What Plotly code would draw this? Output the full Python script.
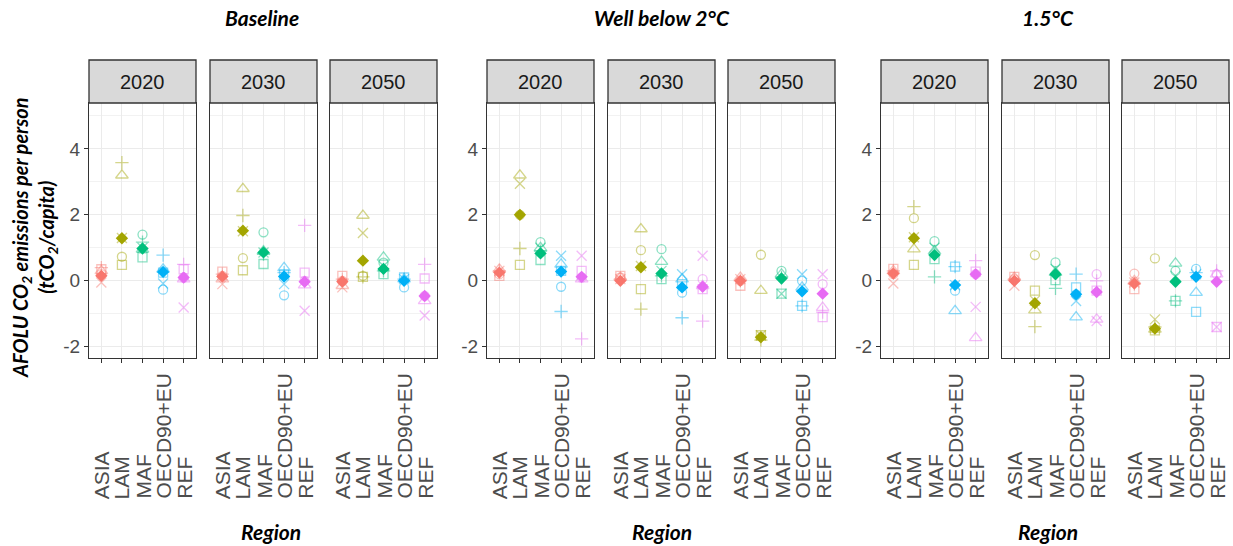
import plotly.graph_objects as go

# ---- data -------------------------------------------------------------
regions = ["ASIA", "LAM", "MAF", "OECD90+EU", "REF"]
scenarios = ["Baseline", "Well below 2°C", "1.5°C"]
years = ["2020", "2030", "2050"]
colors = ["#F8766D", "#A3A500", "#00BF7D", "#00B0F6", "#E76BF3"]
y_tickvals = [-2, 0, 2, 4]
y_ticktext = ["-2", "0", "2", "4"]

# Per-model values (tCO2/capita) for each scenario/year, ordered as `regions`.
# Keys: median across models, then one entry per model.
base_2020 = {
    "median": [0.15, 1.29, 0.98, 0.27, 0.10],
    "m1": [0.35, 0.48, 0.71, 0.25, 0.35],
    "m2": [0.20, 0.73, 1.40, -0.27, 0.10],
    "m3": [0.30, 3.20, 0.95, 0.35, 0.05],
    "m4": [0.40, 3.58, 1.17, 0.78, 0.50],
    "m5": [-0.05, 1.30, 1.00, -0.08, -0.81],
}
base_2030 = {
    "median": [0.13, 1.52, 0.86, 0.13, -0.03],
    "m1": [0.28, 0.32, 0.51, 0.20, 0.25],
    "m2": [0.15, 0.69, 1.47, -0.44, 0.00],
    "m3": [0.05, 2.79, 0.90, 0.39, -0.13],
    "m4": [0.20, 1.98, 0.81, 0.25, 1.68],
    "m5": [-0.10, 1.50, 0.86, -0.10, -0.91],
}
base_2050 = {
    "median": [-0.02, 0.61, 0.36, 0.00, -0.46],
    "m1": [0.15, 0.12, 0.20, 0.10, 0.07],
    "m2": [0.00, 0.15, 0.55, -0.20, -0.46],
    "m3": [-0.15, 1.98, 0.71, 0.05, -0.61],
    "m4": [0.05, 0.12, 0.30, 0.05, 0.50],
    "m5": [-0.20, 1.45, 0.45, 0.05, -1.05],
}
wb2c_2020 = {
    "median": [0.25, 2.00, 0.83, 0.28, 0.12],
    "m1": [0.15, 0.48, 0.63, 0.30, 0.30],
    "m2": [0.20, 2.00, 1.17, -0.18, 0.10],
    "m3": [0.35, 3.20, 1.00, 0.50, 0.05],
    "m4": [0.30, 0.98, 0.90, -0.93, -1.76],
    "m5": [0.30, 2.94, 1.00, 0.76, 0.76],
}
wb2c_2030 = {
    "median": [0.00, 0.41, 0.22, -0.20, -0.18],
    "m1": [0.15, -0.25, 0.05, -0.10, -0.25],
    "m2": [0.10, 0.93, 0.96, -0.36, 0.05],
    "m3": [0.10, 1.57, 0.58, 0.05, -0.15],
    "m4": [0.05, -0.86, 0.15, -1.12, -1.22],
    "m5": [0.05, 0.45, 0.30, 0.20, 0.76],
}
wb2c_2050 = {
    "median": [0.00, -1.71, 0.07, -0.32, -0.39],
    "m1": [-0.15, -1.65, -0.39, -0.76, -1.10],
    "m2": [0.00, 0.79, 0.30, 0.00, -0.10],
    "m3": [0.10, -0.30, 0.20, -0.20, -0.81],
    "m4": [0.00, -1.80, 0.10, -0.76, -0.95],
    "m5": [0.05, -1.65, -0.39, 0.20, 0.20],
}
c15_2020 = {
    "median": [0.22, 1.29, 0.78, -0.13, 0.20],
    "m1": [0.36, 0.48, 0.66, 0.43, 0.28],
    "m2": [0.20, 1.90, 1.20, -0.30, 0.20],
    "m3": [0.30, 0.96, 0.90, -0.91, -1.73],
    "m4": [0.30, 2.25, 0.12, 0.43, 0.61],
    "m5": [-0.08, 1.32, 1.00, -0.13, -0.79],
}
c15_2030 = {
    "median": [0.00, -0.68, 0.20, -0.41, -0.34],
    "m1": [0.12, -0.30, 0.02, -0.20, -0.30],
    "m2": [0.05, 0.78, 0.56, -0.41, 0.20],
    "m3": [0.10, -0.89, 0.25, -1.10, -1.17],
    "m4": [0.05, -1.39, -0.23, 0.20, 0.00],
    "m5": [-0.15, -0.60, 0.36, -0.61, -1.22],
}
c15_2050 = {
    "median": [-0.08, -1.45, -0.03, 0.12, -0.03],
    "m1": [-0.25, -1.50, -0.61, -0.94, -1.40],
    "m2": [0.22, 0.68, 0.30, 0.36, 0.20],
    "m3": [0.00, -1.47, 0.53, -0.36, 0.20],
    "m4": [-0.10, -1.40, -0.61, 0.25, 0.30],
    "m5": [-0.05, -1.17, 0.15, 0.20, -1.40],
}

panels = [
    base_2020, base_2030, base_2050,
    wb2c_2020, wb2c_2030, wb2c_2050,
    c15_2020, c15_2030, c15_2050,
]

# ---- styling ----------------------------------------------------------
W, H = 1233, 546
panel_left = [89, 210, 330, 487, 608, 728, 881, 1002, 1122]
panel_w = 107
panel_top, panel_bot = 103, 358
strip_top = 60

model_symbols = {
    "m1": ("square-open", 9),
    "m2": ("circle-open", 9),
    "m3": ("triangle-up-open", 11),
    "m4": ("cross-thin-open", 9.5),
    "m5": ("x-thin-open", 10),
}

TXT = "#4D4D4D"
FRAME = "#333333"
GRID = "#EBEBEB"


def px_x(v):
    return v / W


def px_y(v):
    return 1 - v / H


fig = go.Figure()
layout = dict(
    width=W, height=H,
    margin=dict(l=0, r=0, t=0, b=0),
    paper_bgcolor="white", plot_bgcolor="white",
    showlegend=False,
    shapes=[], annotations=[],
)

for k, data in enumerate(panels):
    suffix = "" if k == 0 else str(k + 1)
    xref, yref = "x" + suffix, "y" + suffix
    first_in_group = k % 3 == 0

    for model, (sym, size) in model_symbols.items():
        for r, reg in enumerate(regions):
            fig.add_trace(go.Scatter(
                x=[reg], y=[data[model][r]], xaxis=xref, yaxis=yref,
                mode="markers", opacity=0.45, hoverinfo="skip",
                marker=dict(symbol=sym, size=size, color=colors[r],
                            line=dict(width=1.3, color=colors[r])),
            ))
    fig.add_trace(go.Scatter(
        x=regions, y=data["median"], xaxis=xref, yaxis=yref,
        mode="markers", hoverinfo="skip",
        marker=dict(symbol="diamond", size=9.5, color=colors,
                    line=dict(width=0)),
    ))

    x0, x1 = panel_left[k], panel_left[k] + panel_w
    layout["xaxis" + suffix] = dict(
        domain=[px_x(x0), px_x(x1)], anchor=yref,
        type="category", categoryorder="array", categoryarray=regions,
        range=[-0.6, 4.6], showticklabels=False,
        ticks="outside", ticklen=4, tickwidth=1.2, tickcolor=FRAME,
        showgrid=True, gridcolor=GRID, gridwidth=1.3,
        showline=True, linecolor=FRAME, linewidth=1.3, mirror=True,
        zeroline=False, fixedrange=True,
    )
    layout["yaxis" + suffix] = dict(
        domain=[px_y(panel_bot), px_y(panel_top)], anchor=xref,
        range=[-2.34, 5.39], tickvals=y_tickvals, ticktext=y_ticktext,
        showticklabels=first_in_group,
        ticks="outside" if first_in_group else "",
        ticklen=4, tickwidth=1.2, tickcolor=FRAME,
        tickfont=dict(family="Liberation Sans, Arial", size=19, color=TXT),
        showgrid=True, gridcolor=GRID, gridwidth=1.3,
        minor=dict(tickvals=[-1, 1, 3, 5], showgrid=True,
                   gridcolor="#F2F2F2", gridwidth=0.8),
        showline=True, linecolor=FRAME, linewidth=1.3, mirror=True,
        zeroline=False, fixedrange=True,
    )

    # facet strip
    layout["shapes"].append(dict(
        type="rect", xref="paper", yref="paper",
        x0=px_x(x0), x1=px_x(x1), y0=px_y(panel_top), y1=px_y(strip_top),
        fillcolor="#D9D9D9", line=dict(color=FRAME, width=1.3), layer="above",
    ))
    layout["annotations"].append(dict(
        text=years[k % 3], xref="paper", yref="paper",
        x=px_x((x0 + x1) / 2), y=px_y((strip_top + panel_top) / 2),
        xanchor="center", yanchor="middle", showarrow=False,
        font=dict(family="Liberation Sans, Arial", size=20, color="#1A1A1A"),
    ))

    # rotated region labels, bottom-aligned
    for reg in regions:
        layout["annotations"].append(dict(
            text=reg, xref=xref, yref="paper", x=reg, y=px_y(501),
            xanchor="center", yanchor="bottom", textangle=-90,
            showarrow=False,
            font=dict(family="Liberation Sans, Arial", size=21, color=TXT),
        ))

# group titles and x-axis titles
title_font = dict(family="Lato", size=21, color="black")
title_x = [262, 662, 1048]
region_x = [271, 662, 1048]
for g, name in enumerate(scenarios):
    layout["annotations"].append(dict(
        text=f"<b><i>{name}</i></b>", xref="paper", yref="paper",
        x=px_x(title_x[g]), y=px_y(18), xanchor="center", yanchor="middle",
        showarrow=False, font=title_font,
    ))
    layout["annotations"].append(dict(
        text="<b><i>Region</i></b>", xref="paper", yref="paper",
        x=px_x(region_x[g]), y=px_y(531), xanchor="center", yanchor="middle",
        showarrow=False, font=title_font,
    ))

# y-axis title
layout["annotations"].append(dict(
    text="<b><i>AFOLU CO<sub>2</sub> emissions per person<br>"
         "(tCO<sub>2</sub>/capita)</i></b>",
    xref="paper", yref="paper", x=px_x(34), y=px_y(238),
    xanchor="center", yanchor="middle", textangle=-90, showarrow=False,
    font=dict(family="Lato", size=20, color="black"),
))

fig.update_layout(**layout)
fig.write_html("out.html")
